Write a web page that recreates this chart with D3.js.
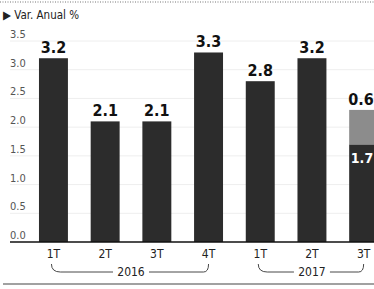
<!DOCTYPE html>
<html><head><meta charset="utf-8">
<script src="https://cdn.jsdelivr.net/npm/d3@7"></script>
<style>
html,body{margin:0;padding:0;background:#fff;}
svg{display:block;}
text{font-family:"Liberation Sans Narrow","DejaVu Sans Condensed","Arial Narrow",sans-serif;}
</style></head>
<body>
<svg id="c" width="374" height="289"></svg>
<script>
const quarters = ["1T","2T","3T","4T","1T","2T","3T"];
const years = ["2016","2016","2016","2016","2017","2017","2017"];
const mainValues = [3.2, 2.1, 2.1, 3.3, 2.8, 3.2, 1.7];
const extraValues = [0, 0, 0, 0, 0, 0, 0.6];
const barLabels = ["3.2","2.1","2.1","3.3","2.8","3.2","0.6"];
const yTicks = [0, 0.5, 1.0, 1.5, 2.0, 2.5, 3.0, 3.5];
const yearGroups = ["2016","2017"];

const W = 374;
const svg = d3.select("#c");
const idx = d3.range(quarters.length);
const x = d3.scaleBand().domain(idx).range([27.6, 389.5]).paddingInner(0.44).paddingOuter(0.22);
const y = d3.scaleLinear().domain([0, 3.5]).range([242, 41]);
const cx = i => x(i)+x.bandwidth()/2;
// keep labels inside the picture
const clampX = (v, half) => Math.min(v, W - 1 - half);

// top dotted line
svg.append("line").attr("x1",0).attr("x2",W).attr("y1",2).attr("y2",2)
  .attr("stroke","#777").attr("stroke-width",1).attr("stroke-dasharray","1,1.5");

// title
svg.append("text").attr("x",3).attr("y",19).attr("font-size",11.5).attr("fill","#222")
  .text("\u25B6 Var. Anual %");

// gridlines
svg.append("g").selectAll("line").data(yTicks.slice(1)).join("line")
  .attr("x1",10).attr("x2",W).attr("y1",d=>y(d)).attr("y2",d=>y(d))
  .attr("stroke","#eeeeee").attr("stroke-width",1);

// y labels
svg.append("g").selectAll("text").data(yTicks).join("text")
  .attr("x",10).attr("y",d=>y(d)-3).attr("font-size",11).attr("fill","#555")
  .text(d=>d3.format(".1f")(d));

// bars
svg.append("g").selectAll("rect").data(idx).join("rect")
  .attr("x",i=>x(i)).attr("width",x.bandwidth())
  .attr("y",i=>y(mainValues[i])).attr("height",i=>y(0)-y(mainValues[i]))
  .attr("fill","#2c2c2c");
svg.append("g").selectAll("rect").data(idx.filter(i=>extraValues[i]>0)).join("rect")
  .attr("x",i=>x(i)).attr("width",x.bandwidth())
  .attr("y",i=>y(mainValues[i]+extraValues[i])).attr("height",i=>y(mainValues[i])-y(mainValues[i]+extraValues[i]))
  .attr("fill","#8c8c8c");

// baseline
svg.append("line").attr("x1",10).attr("x2",W).attr("y1",y(0)).attr("y2",y(0))
  .attr("stroke","#111").attr("stroke-width",1.6);

// value labels
svg.append("g").selectAll("text").data(idx).join("text")
  .attr("x",i=>clampX(cx(i), 12)).attr("y",i=>y(mainValues[i]+extraValues[i])-5)
  .attr("text-anchor","middle").attr("font-size",16).attr("font-weight","bold").attr("fill","#111")
  .text(i=>barLabels[i]);
// inner label for stacked bar
svg.append("g").selectAll("text").data(idx.filter(i=>extraValues[i]>0)).join("text")
  .attr("x",i=>clampX(cx(i), 11)).attr("y",i=>y(mainValues[i])+19)
  .attr("text-anchor","middle").attr("font-size",14).attr("font-weight","bold").attr("fill","#fff")
  .text(i=>d3.format(".1f")(mainValues[i]));

// x labels
svg.append("g").selectAll("text").data(idx).join("text")
  .attr("x",i=>clampX(cx(i), 8)).attr("y",258)
  .attr("text-anchor","middle").attr("font-size",12).attr("fill","#222")
  .text(i=>quarters[i]);

// year brackets
const by = 272, bt = 264, r = 5;
yearGroups.forEach(yr=>{
  const ids = idx.filter(i=>years[i]===yr);
  const x0 = cx(ids[0]), x1 = Math.min(cx(ids[ids.length-1]), W-9);
  const mid = (x0+x1)/2, half = 18;
  const g = svg.append("g").attr("fill","none").attr("stroke","#333").attr("stroke-width",0.9);
  g.append("path").attr("d",`M${x0-2},${bt} Q${x0-2},${by} ${x0+r+2},${by} L${mid-half},${by}`);
  g.append("path").attr("d",`M${mid+half},${by} L${x1-r},${by} Q${x1},${by} ${x1},${bt}`);
  svg.append("text").attr("x",mid).attr("y",by+4).attr("text-anchor","middle")
    .attr("font-size",12).attr("fill","#222").text(yr);
});

// bottom line
svg.append("line").attr("x1",3).attr("x2",W).attr("y1",284).attr("y2",284)
  .attr("stroke","#444").attr("stroke-width",1.2);
</script>
</body></html>
